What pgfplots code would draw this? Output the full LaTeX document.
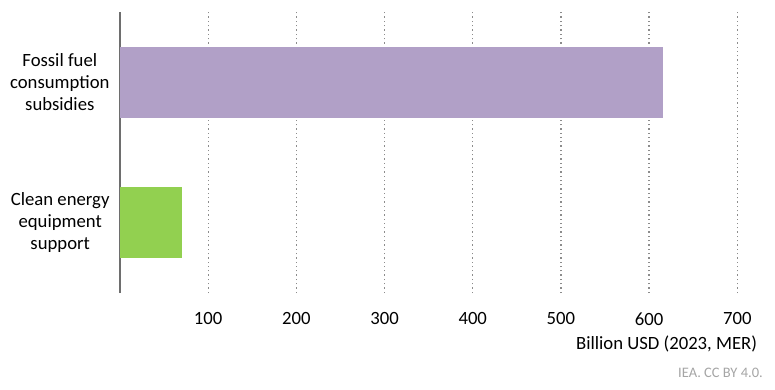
\documentclass[border=0pt]{standalone}
\usepackage{pgfplots}
\pgfplotsset{compat=1.18}
\usepackage{fontspec}
\setmainfont{Carlito}
\definecolor{fossil}{RGB}{177,160,199}
\definecolor{clean}{RGB}{146,208,80}
\definecolor{axisgray}{RGB}{110,110,110}
\definecolor{gridgray}{RGB}{140,140,140}
\definecolor{srcgray}{RGB}{165,165,165}
\begin{document}
\begin{tikzpicture}
\path[use as bounding box] (-120bp,-97bp) rectangle (655bp,293bp);
\begin{axis}[
  scale only axis, width=617.3bp, height=281bp,
  xbar, bar shift=0pt, bar width=70.7bp,
  xmin=0, xmax=700, ymin=-0.5, ymax=1.5,
  xtick={100,200,300,400,500,600,700}, ytick={0,1},
  yticklabels={{Clean energy\\equipment\\support},{Fossil fuel\\consumption\\subsidies}},
  yticklabel style={align=center, font=\fontsize{18.7bp}{22bp}\selectfont, xshift=-7bp},
  xticklabel style={font=\fontsize{18.7bp}{22bp}\selectfont, yshift=-16bp},
  /pgf/number format/assume math mode=true,
  axis lines*=left,
  axis line style={-},
  x axis line style={draw=none},
  y axis line style={axisgray, line width=1.5bp},
  major tick length=0pt,
  tick style={draw=none},
  xmajorgrids,
  grid style={gridgray, line width=1.3bp, dash pattern=on 1.3bp off 3bp},
  xlabel={Billion USD (2023, MER)},
  xlabel style={at={(rel axis cs:1,0)}, anchor=east, inner sep=0pt, xshift=20bp, yshift=-51bp, font=\fontsize{18.7bp}{22bp}\selectfont},
]
\addplot[fill=fossil, draw=none] coordinates {(616,1)};
\addplot[fill=clean, draw=none] coordinates {(70,0)};
\end{axis}
\node[anchor=east, inner sep=0pt, text=srcgray, font=\fontsize{14.5bp}{17bp}\selectfont] at (643bp,-80bp) {IEA. CC BY 4.0.};
\end{tikzpicture}
\end{document}
